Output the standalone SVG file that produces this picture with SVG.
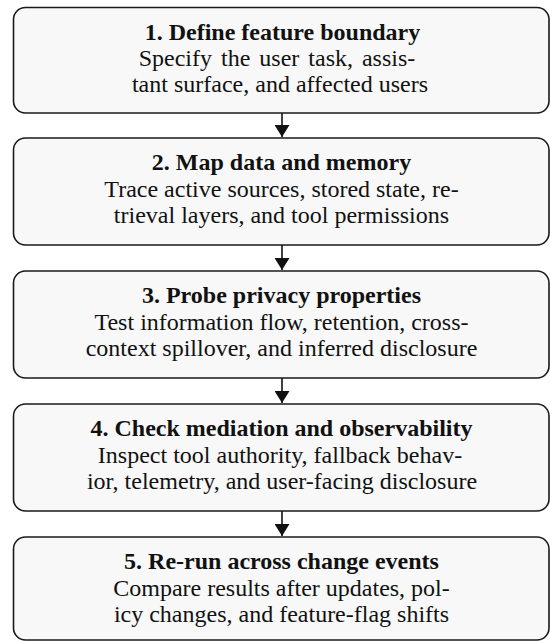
<svg xmlns="http://www.w3.org/2000/svg" width="550" height="641" viewBox="0 0 550 641">
<defs>
<style>
.box{fill:#f8f8f8;stroke:#1a1a1a;stroke-width:1.6}
text{font-family:'Liberation Serif',Tinos,'Times New Roman',Times,'Nimbus Roman',serif;font-size:24px;fill:#111;text-anchor:middle}
.t{font-weight:bold}
.edge{stroke:#111;stroke-width:1.6;fill:none}
</style>
<marker id="ah" viewBox="0 0 12 15" refX="12" refY="7.5" markerWidth="12" markerHeight="15" markerUnits="userSpaceOnUse" orient="auto">
<path d="M0,0 L12,7.5 L0,15 Z" fill="#111"/>
</marker>
</defs>
<rect width="550" height="641" fill="#ffffff"/>
<g id="connectors">
<line class="edge" x1="282" y1="113" x2="282" y2="137" marker-end="url(#ah)"/>
<line class="edge" x1="282" y1="245" x2="282" y2="270" marker-end="url(#ah)"/>
<line class="edge" x1="282" y1="378" x2="282" y2="403" marker-end="url(#ah)"/>
<line class="edge" x1="282" y1="511" x2="282" y2="536" marker-end="url(#ah)"/>
</g>
<g id="node1">
<rect class="box" x="13.5" y="7.5" width="535.5" height="105.5" rx="12"/>
<text class="t" x="282.5" y="39.5">1. Define feature boundary</text>
<text x="277" y="66" word-spacing="3">Specify the user task, assis-</text>
<text x="280" y="92">tant surface, and affected users</text>
</g>
<g id="node2">
<rect class="box" x="13.5" y="138" width="535.5" height="107" rx="12"/>
<text class="t" x="281.5" y="170">2. Map data and memory</text>
<text x="281.5" y="196.5">Trace active sources, stored state, re-</text>
<text x="281.5" y="223">trieval layers, and tool permissions</text>
</g>
<g id="node3">
<rect class="box" x="13.5" y="271" width="535.5" height="107" rx="12"/>
<text class="t" x="281.5" y="303">3. Probe privacy properties</text>
<text x="281.5" y="329.5">Test information flow, retention, cross-</text>
<text x="281.5" y="356">context spillover, and inferred disclosure</text>
</g>
<g id="node4">
<rect class="box" x="13.5" y="404" width="535.5" height="107" rx="12"/>
<text class="t" x="281.5" y="436">4. Check mediation and observability</text>
<text x="280" y="462.5">Inspect tool authority, fallback behav-</text>
<text x="282" y="489">ior, telemetry, and user-facing disclosure</text>
</g>
<g id="node5">
<rect class="box" x="13.5" y="537" width="535.5" height="103" rx="12"/>
<text class="t" x="281.5" y="569">5. Re-run across change events</text>
<text x="281.5" y="595.5">Compare results after updates, pol-</text>
<text x="281.5" y="622">icy changes, and feature-flag shifts</text>
</g>
</svg>
